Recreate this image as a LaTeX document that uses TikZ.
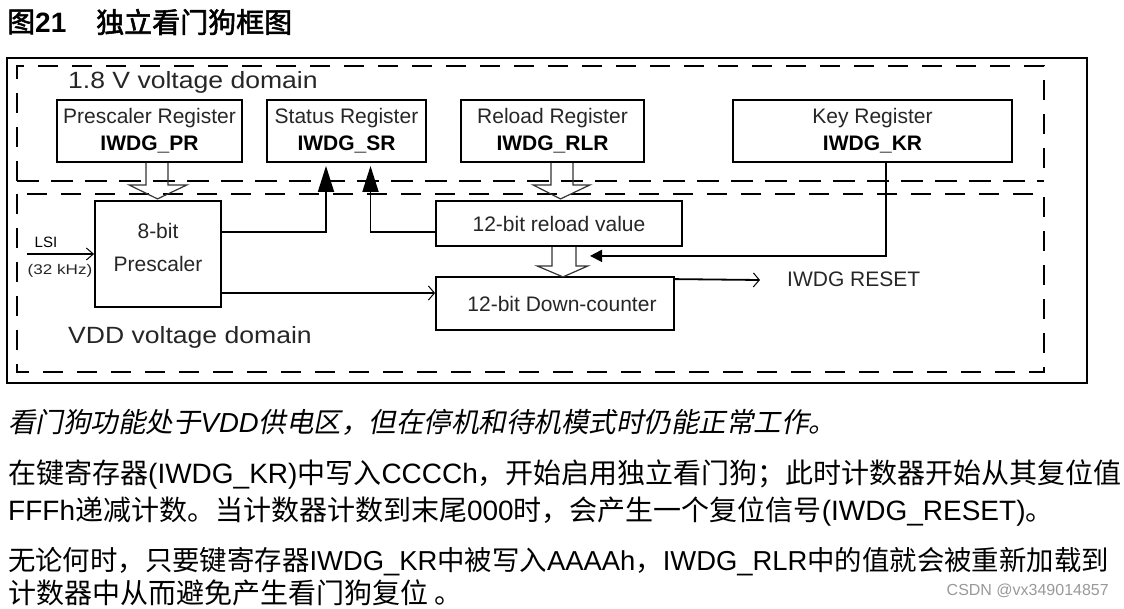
\documentclass[tikz,border=0pt]{standalone}
\usepackage{fontspec}
\setmainfont{Liberation Sans}
\newfontfamily\domfont{Liberation Sans}[FakeStretch=1.13]
\newfontfamily\widesans{Liberation Sans}[FakeStretch=1.22]
\newfontfamily\cjk{Noto Sans CJK SC}
\newfontfamily\cjkit{Noto Sans CJK SC}[FakeSlant=0.2]
\newfontfamily\cjkb{Noto Sans CJK SC}[FakeBold=2]
\usetikzlibrary{arrows.meta,calc}
\begin{document}
\begin{tikzpicture}[x=1pt,y=-1pt,
  reg/.style={draw, line width=1.8pt, inner sep=0pt, align=center, font=\fontsize{21}{27}\selectfont, text=black!85},
  dom/.style={line width=1.2pt, dash pattern=on 20pt off 14pt},
  domthick/.style={line width=2.8pt, dash pattern=on 22pt off 12pt},
  wire/.style={line width=1.8pt},
  hollowline/.style={line width=1.2pt, line join=miter, draw=black!80},
  solidtip/.style={-{Triangle[length=26pt,width=16pt]}},
  smalltip/.style={-{Triangle[length=12pt,width=12pt]}},
  opentip/.style={-{Straight Barb[length=6pt,width=14pt,line width=1pt]}},
  lbl/.style={inner sep=0pt, text=black!85},
  domlbl/.style={inner sep=0pt, text=black!85, anchor=base west, font=\domfont\fontsize{23.5}{28}\selectfont},
  para/.style={anchor=west, inner sep=0pt, font=\fontsize{28}{34}\selectfont},
]
\useasboundingbox (0,0) rectangle (1124,608);
\clip (0,0) rectangle (1124,608);

% title
\node[anchor=west, inner sep=0pt, font=\fontsize{28}{32}\selectfont] (fig) at (7,22) {{\cjkb 图}\textbf{21}};
\node[anchor=west, inner sep=0pt, font=\fontsize{28}{32}\selectfont] (figtitle) at (96,22) {\cjkb 独立看门狗框图};

% frames
\draw[line width=1.8pt] (7,58) rectangle (1087,383);
\draw[dom] (17,181) -- (17,66) -- (1044,66) -- (1044,181);
\draw[domthick] (17,181) -- (1044,181);
\draw[dom] (17,194) rectangle (1044,372);

\node[domlbl] (d18) at (68,88) {1.8 V voltage domain};
\node[domlbl] (dvdd) at (68,343) {VDD voltage domain};

% registers
\node[reg, minimum width=185pt, minimum height=62pt] (prreg) at (149.5,131) {Prescaler Register\\\textbf{\color{black}IWDG\_PR}};
\node[reg, minimum width=159pt, minimum height=62pt] (srreg) at (346.5,131) {Status Register\\\textbf{\color{black}IWDG\_SR}};
\node[reg, minimum width=183pt, minimum height=62pt] (rlreg) at (552.5,131) {Reload Register\\\textbf{\color{black}IWDG\_RLR}};
\node[reg, minimum width=279pt, minimum height=62pt] (krreg) at (872.5,131) {Key Register\\\textbf{\color{black}IWDG\_KR}};

% VDD domain blocks
\node[reg, minimum width=126pt, minimum height=106pt] (presc) at (158,254) {};
\node[lbl, align=center, font=\fontsize{21}{33}\selectfont] (presclbl) at (158,247) {8-bit\\Prescaler};
\node[reg, minimum width=246pt, minimum height=45pt] (rlval) at (559,223.5) {12-bit reload value};
\node[reg, minimum width=238pt, minimum height=53pt] (cnt) at (555,303.5) {\hspace*{14pt}12-bit Down-counter};

% LSI input
\node[lbl, text=black, font=\fontsize{15}{17}\selectfont] (lsi) at (46,242) {LSI};
\node[lbl, font=\widesans\fontsize{14}{16}\selectfont] (khz) at (60,271) {(32 kHz)};
\coordinate (lsi0) at (27,254);
\draw[line width=1.3pt, -{Straight Barb[length=7pt,width=12pt,line width=1pt]}] (lsi0) -- (presc.west |- lsi0);

% hollow arrows
\draw[hollowline] ($(prreg.south)+(-3.5,0)$) -- ++(0,22) -- ++(-17,0) -- ++(28.5,14) -- ++(29.5,-14) -- ++(-19,0) -- ++(0,-22);
\draw[hollowline] ($(rlreg.south)+(-1.5,0)$) -- ++(0,22) -- ++(-18,0) -- ++(27.5,14) -- ++(29.5,-14) -- ++(-17,0) -- ++(0,-22);
\draw[hollowline] ($(rlval.south)+(-7,0)$) -- ++(0,19) -- ++(-15,0) -- ++(26,11) -- ++(25,-11) -- ++(-12,0) -- ++(0,-19);

% status flags
\coordinate (sr1) at ($(srreg.south)+(-20.5,0)$);
\coordinate (sr2) at ($(srreg.south)+(24,0)$);
\draw[wire, solidtip, shorten >=3pt] ($(presc.north east)+(0,32)$) -| (sr1);
\draw[wire, solidtip, shorten >=3pt] ($(rlval.west)+(0,8.5)$) -| (sr2);

% key register
\coordinate (kr1) at ($(krreg.south)+(13.5,0)$);
\coordinate (keytip) at ($(rlval.south)+(31,9)$);
\draw[wire, smalltip] (kr1) |- (keytip);

% counter clock and reset
\draw[wire, opentip] ($(presc.east)+(0,39)$) -- ($(cnt.west)+(0,-10.5)$);
\node[lbl, anchor=west, font=\fontsize{21}{24}\selectfont] (reset) at (787,279) {IWDG RESET};
\draw[wire, opentip] ($(cnt.north east)+(0,3)$) -- ($(reset.west)+(-27,1)$);

% text below
\node[para, font=\fontsize{27.5}{34}\selectfont\itshape] (p1) at (8,422) {{\cjkit\upshape 看门狗功能处于}VDD{\cjkit\upshape 供电区，但在停机和待机模式时仍能正常工作。}};
\node[para] (p2) at (8,475) {{\cjk 在键寄存器}(IWDG\_KR){\cjk 中写入}CCCCh{\cjk ，开始启用独立看门狗；此时计数器开始从其复位值}};
\node[para] (p3) at (8,512) {FFFh{\cjk 递减计数。当计数器计数到末尾}000{\cjk 时，会产生一个复位信号}(IWDG\_RESET){\cjk 。}};
\node[para, font=\fontsize{27.4}{34}\selectfont] (p4) at (8,562) {{\cjk 无论何时，只要键寄存器}IWDG\_KR{\cjk 中被写入}AAAAh{\cjk ，}IWDG\_RLR{\cjk 中的值就会被重新加载到}};
\node[para] (p5) at (8,593) {{\cjk 计数器中从而避免产生看门狗复位 。}};

\node[anchor=east, inner sep=0pt, font=\fontsize{16}{18}\selectfont, text=black!40] (wm) at (1109,591) {CSDN @vx349014857};
\end{tikzpicture}
\end{document}
